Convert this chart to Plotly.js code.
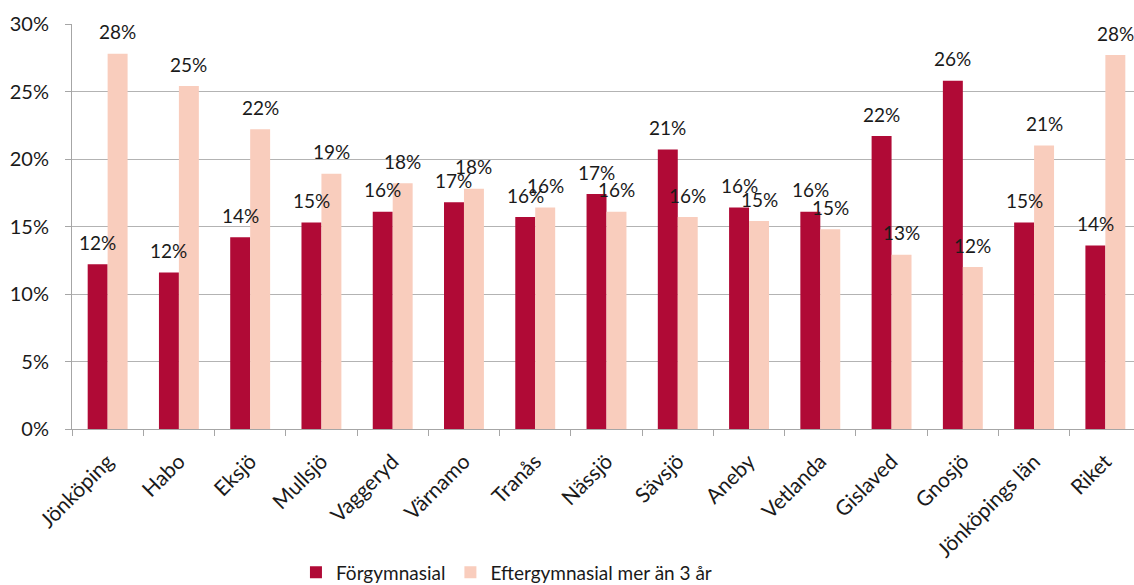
<!DOCTYPE html>
<html>
<head>
<meta charset="utf-8">
<script src="https://cdn.plot.ly/plotly-3.0.1.min.js"></script>
<style>
html,body{margin:0;padding:0;overflow:hidden;background:#fff;}
#chart{width:1141px;height:585px;}
</style>
</head>
<body>
<div id="chart"></div>
<script>
const categories = ["Jönköping","Habo","Eksjö","Mullsjö","Vaggeryd","Värnamo","Tranås","Nässjö","Sävsjö","Aneby","Vetlanda","Gislaved","Gnosjö","Jönköpings län","Riket"];
const forgymnasial = [12.2,11.6,14.2,15.3,16.1,16.8,15.7,17.4,20.7,16.4,16.1,21.7,25.8,15.3,13.6];
const eftergymnasial = [27.8,25.4,22.2,18.9,18.2,17.8,16.4,16.1,15.7,15.4,14.8,12.9,12.0,21.0,27.7];
const seriesNames = ["Förgymnasial","Eftergymnasial mer än 3 år"];
const yTickVals = [0,5,10,15,20,25,30];
const yTickText = yTickVals.map(v => v + "%");

const RED = "#b00a36";
const PINK = "#f9cdbd";
const FONT = "Lato, 'Open Sans', sans-serif";
const TXT = "#1a1a1a";
const FS = 19;

const traces = [
  {type:"bar", name:seriesNames[0], x:categories, y:forgymnasial, marker:{color:RED}, hoverinfo:"none"},
  {type:"bar", name:seriesNames[1], x:categories, y:eftergymnasial, marker:{color:PINK}, hoverinfo:"none"}
];

const annotations = [];
[[forgymnasial,-10],[eftergymnasial,10]].forEach(([arr,dx]) => {
  arr.forEach((v,i) => {
    annotations.push({x:categories[i], y:v, xref:"x", yref:"y", text:Math.round(v)+"%",
      showarrow:false, xshift:dx, yshift:22, yanchor:"middle", xanchor:"center",
      font:{family:FONT, size:FS, color:TXT}});
  });
});

const layout = {
  width:1141, height:585,
  margin:{l:72, r:0, t:24, b:156, pad:0, autoexpand:false},
  paper_bgcolor:"#fff", plot_bgcolor:"#fff",
  font:{family:FONT, size:FS, color:TXT},
  barmode:"group", bargap:0.44, bargroupgap:0,
  showlegend:true,
  legend:{orientation:"h", x:0.2095, xanchor:"left", y:-0.354, yanchor:"middle",
    font:{family:FONT, size:FS, color:TXT}, itemwidth:30, traceorder:"normal"},
  xaxis:{type:"category", automargin:false, showline:true, linecolor:"#a6a6a6", linewidth:1,
    ticks:"outside", tickson:"boundaries", ticklen:6, tickcolor:"#a6a6a6",
    tickangle:-45, ticklabelstandoff:11, tickfont:{family:FONT, size:21, color:TXT}, showgrid:false, fixedrange:true},
  yaxis:{range:[0,30], automargin:false, tickvals:yTickVals, ticktext:yTickText, showline:true, linecolor:"#a6a6a6",
    linewidth:1, ticks:"outside", ticklen:6, tickcolor:"#a6a6a6", showgrid:true, gridcolor:"#b3b3b3",
    gridwidth:1, zeroline:false, ticklabelstandoff:12, tickfont:{family:FONT, size:20, color:TXT}, fixedrange:true},
  annotations:annotations
};

Plotly.newPlot("chart", traces, layout, {displayModeBar:false, staticPlot:true});
</script>
</body>
</html>
